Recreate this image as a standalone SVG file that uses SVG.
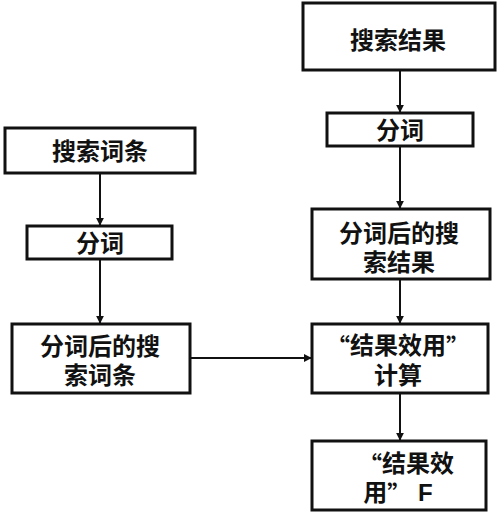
<svg xmlns="http://www.w3.org/2000/svg" width="500" height="512" viewBox="0 0 500 512">
<style>
.box{fill:#fff;stroke:#111;stroke-width:3}
.t{font-family:"Liberation Sans","Noto Sans CJK SC",sans-serif;font-size:24px;font-weight:bold;fill:#111;text-anchor:middle;dominant-baseline:central}
.q{font-family:"Noto Sans CJK SC",sans-serif}
.c{stroke:#111;stroke-width:2;fill:none;marker-end:url(#ah)}
</style>
<defs>
<marker id="ah" viewBox="0 0 10 10" refX="9" refY="5" markerWidth="4" markerHeight="4" orient="auto" markerUnits="strokeWidth">
<path d="M0,0 L10,5 L0,10 z" fill="#111"/>
</marker>
</defs>
<g id="connectors">
<line class="c" x1="100" y1="173" x2="100" y2="225"/>
<line class="c" x1="100" y1="259" x2="100" y2="323"/>
<line class="c" x1="190" y1="358" x2="311" y2="358"/>
<line class="c" x1="400" y1="70" x2="400" y2="112"/>
<line class="c" x1="400" y1="146" x2="400" y2="208"/>
<line class="c" x1="400" y1="279" x2="400" y2="323"/>
<line class="c" x1="400" y1="393" x2="400" y2="440"/>
</g>
<g id="n1"><rect class="box" x="5" y="128" width="190" height="45"/><text class="t" x="100" y="151">搜索词条</text></g>
<g id="n2"><rect class="box" x="27" y="226" width="145" height="33"/><text class="t" x="100" y="243">分词</text></g>
<g id="n3"><rect class="box" x="12" y="324" width="178" height="69"/><text class="t" x="100" y="346">分词后的搜</text><text class="t" x="100" y="375">索词条</text></g>
<g id="n4"><rect class="box" x="303" y="3" width="192" height="67"/><text class="t" x="398" y="40">搜索结果</text></g>
<g id="n5"><rect class="box" x="327" y="113" width="146" height="33"/><text class="t" x="400" y="130">分词</text></g>
<g id="n6"><rect class="box" x="312" y="209" width="178" height="70"/><text class="t" x="399" y="233">分词后的搜</text><text class="t" x="399" y="262">索结果</text></g>
<g id="n7"><rect class="box" x="312" y="324" width="176" height="69"/><text class="t" x="398" y="345"><tspan class="q">“</tspan>结果效用<tspan class="q">”</tspan></text><text class="t" x="398" y="375">计算</text></g>
<g id="n8"><rect class="box" x="312" y="441" width="174" height="69"/><text class="t" x="406" y="463"><tspan class="q">“</tspan>结果效</text><text class="t" x="398" y="492">用<tspan class="q">”</tspan> F</text></g>
</svg>
